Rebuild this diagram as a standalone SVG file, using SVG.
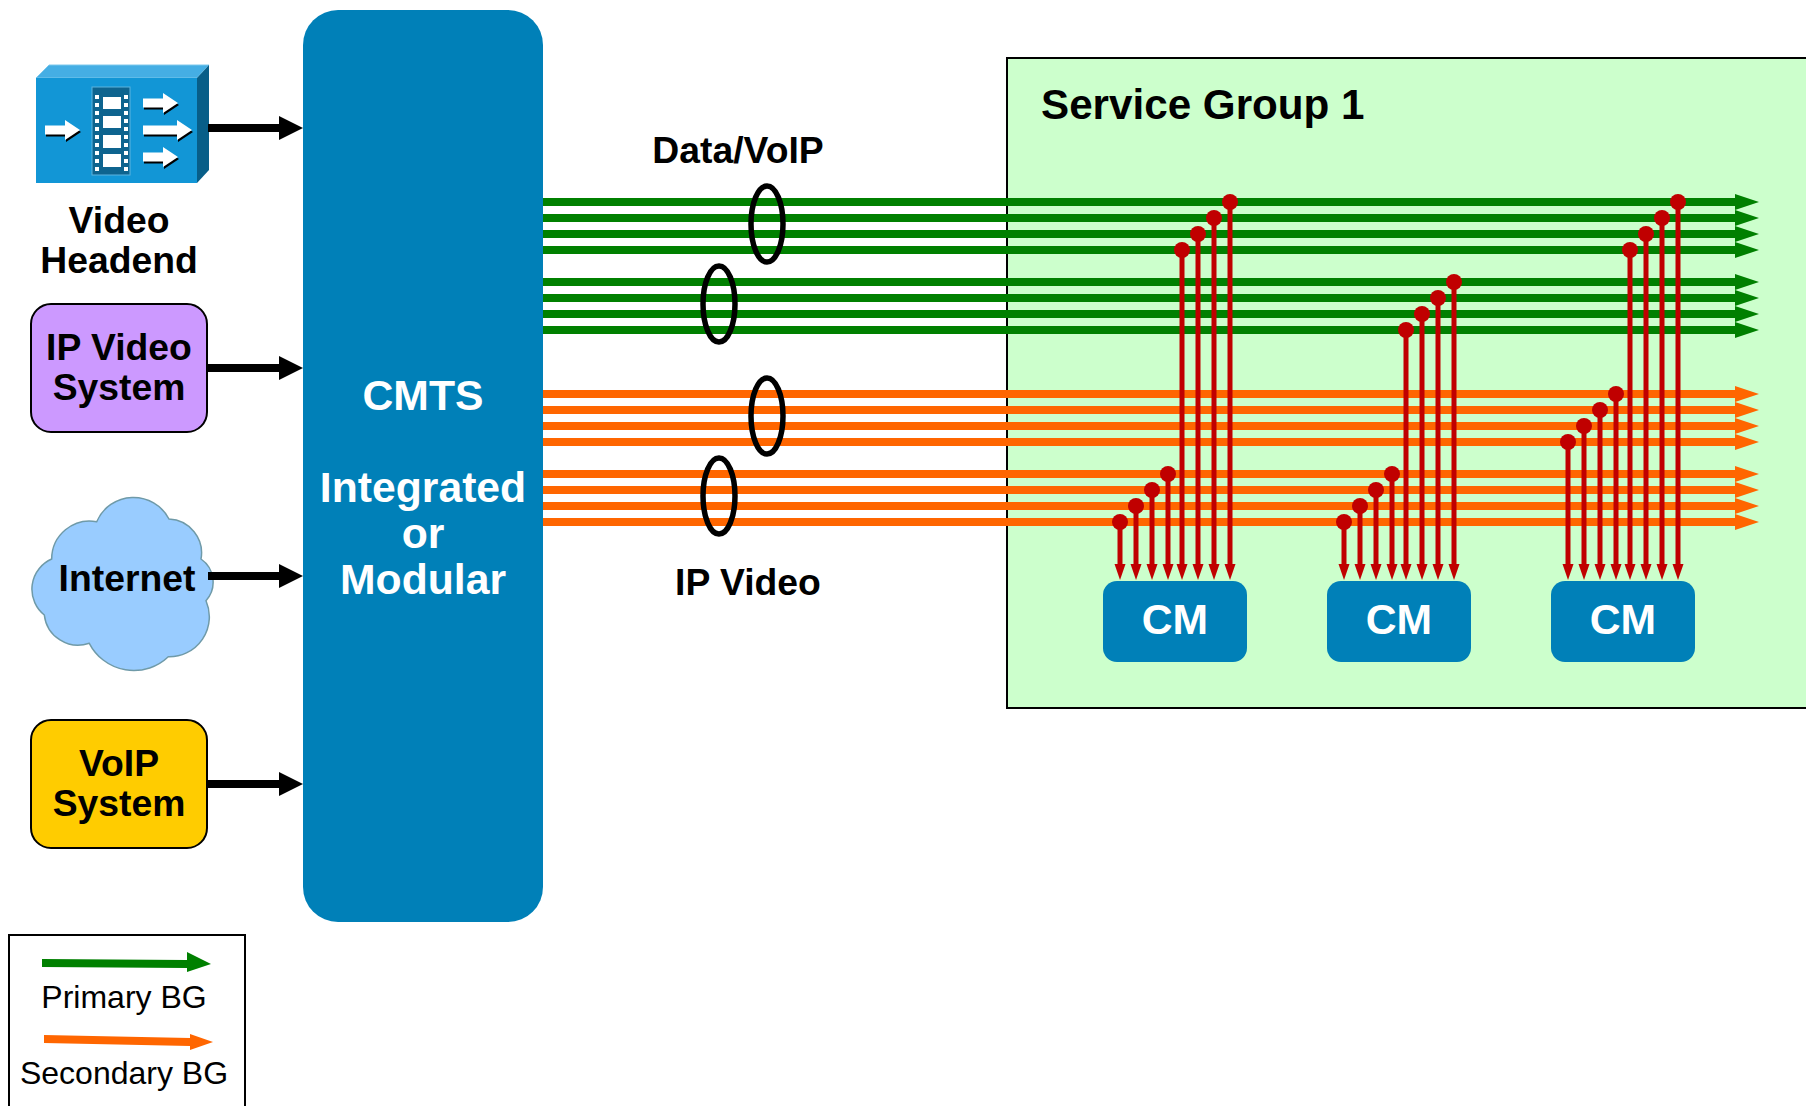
<svg xmlns="http://www.w3.org/2000/svg" width="1806" height="1106" viewBox="0 0 1806 1106">
<defs>
<style>
text{font-family:"Liberation Sans",Arial,sans-serif;font-weight:bold;text-anchor:middle;fill:#000}
.t36{font-size:37.3px}.t42{font-size:42.7px}.w{fill:#fff}.sg{font-size:42.2px}
.leg{font-size:32px;font-weight:normal}
.g{stroke:#008000;stroke-width:8;fill:none;marker-end:url(#mg)}
.o{stroke:#FF6600;stroke-width:8;fill:none;marker-end:url(#mo)}
.k{stroke:#000;stroke-width:8;fill:none;marker-end:url(#mk)}
.r{stroke:#C00000;stroke-width:5;fill:none;marker-end:url(#mr)}
.d{fill:#C00000}
.e{fill:none;stroke:#000;stroke-width:5.5}
.cm{fill:#0080B8}
.sp{fill:#fff}
</style>
<marker id="mg" markerUnits="userSpaceOnUse" markerWidth="25" markerHeight="18" refX="0" refY="8" orient="auto"><path d="M0 0L24 8L0 16z" fill="#008000"/></marker>
<marker id="mo" markerUnits="userSpaceOnUse" markerWidth="25" markerHeight="18" refX="0" refY="8" orient="auto"><path d="M0 0L24 8L0 16z" fill="#FF6600"/></marker>
<marker id="mk" markerUnits="userSpaceOnUse" markerWidth="26" markerHeight="26" refX="0" refY="12" orient="auto"><path d="M0 0L24 12L0 24z" fill="#000"/></marker>
<marker id="mr" markerUnits="userSpaceOnUse" markerWidth="18" markerHeight="12" refX="0" refY="5.5" orient="auto"><path d="M0 0L16 5.5L0 11z" fill="#C00000"/></marker>
<path id="wa" d="M0 -4.500H20V-10L35 0L20 10V4.500H0z"/>
</defs>

<g id="service-group"><rect x="1007" y="58" width="810" height="650" fill="#CCFFCC" stroke="#000" stroke-width="2"/>
<text class="sg" x="1041" y="119" style="text-anchor:start">Service Group 1</text></g>

<g id="cmts"><rect x="303" y="10" width="240" height="912" rx="35" fill="#0080B8"/>
<text class="t42 w" x="423" y="410">CMTS</text>
<text class="t42 w" x="423" y="502">Integrated</text>
<text class="t42 w" x="423" y="548">or</text>
<text class="t42 w" x="423" y="594">Modular</text></g>

<g id="video-headend">
<path d="M36 78L49 65H209L197 78z" fill="#45AEE4" stroke="#7CC8EC" stroke-width="1"/>
<path d="M197 78L209 65V170L197 183z" fill="#085E88"/>
<rect x="36" y="78" width="161" height="105" fill="#1296D6"/>
<rect x="92" y="87" width="38" height="88" fill="#0E648F" stroke="#5CB3DE" stroke-width="1"/>
<g class="sp"><rect x="103" y="97" width="18" height="12"/><rect x="103" y="116" width="18" height="12"/><rect x="103" y="135" width="18" height="13"/><rect x="103" y="154" width="18" height="13"/>
<path d="M95 95h4v4h-4zM95 103h4v4h-4zM95 111h4v4h-4zM95 119h4v4h-4zM95 127h4v4h-4zM95 135h4v4h-4zM95 143h4v4h-4zM95 151h4v4h-4zM95 159h4v4h-4zM95 167h4v4h-4zM124 95h4v4h-4zM124 103h4v4h-4zM124 111h4v4h-4zM124 119h4v4h-4zM124 127h4v4h-4zM124 135h4v4h-4zM124 143h4v4h-4zM124 151h4v4h-4zM124 159h4v4h-4zM124 167h4v4h-4z"/></g>
<use href="#wa" transform="translate(46 132)" fill="#000"/><use href="#wa" transform="translate(45 130)" fill="#fff"/>
<use href="#wa" transform="translate(144 105)" fill="#000"/><use href="#wa" transform="translate(143 103)" fill="#fff"/>
<path d="M143 125.500H177V120L192 130L177 140V134.500H143z" fill="#000" transform="translate(1 2)"/><path d="M143 125.500H177V120L192 130L177 140V134.500H143z" fill="#fff"/>
<use href="#wa" transform="translate(144 159)" fill="#000"/><use href="#wa" transform="translate(143 157)" fill="#fff"/>
<text class="t36" x="119" y="233">Video</text><text class="t36" x="119" y="273">Headend</text></g>

<g id="ip-video-system"><rect x="31" y="304" width="176" height="128" rx="20" fill="#CC99FF" stroke="#000" stroke-width="2"/>
<text class="t36" x="119" y="360">IP Video</text><text class="t36" x="119" y="400">System</text></g>

<g id="internet"><path d="M96.700 521.700A40 40 0 0 1 169 519A34 34 0 0 1 201 559A28 28 0 0 1 206 600.700A40 40 0 0 1 168.300 656.700A50 50 0 0 1 89.300 643.300A34 34 0 0 1 44.300 615A33 33 0 0 1 51.700 559A38 38 0 0 1 96.700 521.700z" fill="#99CCFF" stroke="#6F9AA8" stroke-width="1.500"/>
<text class="t36" x="127" y="591">Internet</text></g>

<g id="voip-system"><rect x="31" y="720" width="176" height="128" rx="20" fill="#FFCC00" stroke="#000" stroke-width="2"/>
<text class="t36" x="119" y="776">VoIP</text><text class="t36" x="119" y="816">System</text></g>

<g id="connectors">
<line class="k" x1="208" y1="128" x2="279" y2="128"/><line class="k" x1="207" y1="368" x2="279" y2="368"/><line class="k" x1="208" y1="576" x2="279" y2="576"/><line class="k" x1="207" y1="784" x2="279" y2="784"/>
<line class="g" x1="543" y1="202" x2="1735" y2="202"/><line class="g" x1="543" y1="218" x2="1735" y2="218"/><line class="g" x1="543" y1="234" x2="1735" y2="234"/><line class="g" x1="543" y1="250" x2="1735" y2="250"/>
<line class="g" x1="543" y1="282" x2="1735" y2="282"/><line class="g" x1="543" y1="298" x2="1735" y2="298"/><line class="g" x1="543" y1="314" x2="1735" y2="314"/><line class="g" x1="543" y1="330" x2="1735" y2="330"/>
<line class="o" x1="543" y1="394" x2="1735" y2="394"/><line class="o" x1="543" y1="410" x2="1735" y2="410"/><line class="o" x1="543" y1="426" x2="1735" y2="426"/><line class="o" x1="543" y1="442" x2="1735" y2="442"/>
<line class="o" x1="543" y1="474" x2="1735" y2="474"/><line class="o" x1="543" y1="490" x2="1735" y2="490"/><line class="o" x1="543" y1="506" x2="1735" y2="506"/><line class="o" x1="543" y1="522" x2="1735" y2="522"/>
<path class="r" d="M1120 522V564"/><path class="r" d="M1136 506V564"/><path class="r" d="M1152 490V564"/><path class="r" d="M1168 474V564"/>
<path class="r" d="M1182 250V564"/><path class="r" d="M1198 234V564"/><path class="r" d="M1214 218V564"/><path class="r" d="M1230 202V564"/>
<path class="r" d="M1344 522V564"/><path class="r" d="M1360 506V564"/><path class="r" d="M1376 490V564"/><path class="r" d="M1392 474V564"/>
<path class="r" d="M1406 330V564"/><path class="r" d="M1422 314V564"/><path class="r" d="M1438 298V564"/><path class="r" d="M1454 282V564"/>
<path class="r" d="M1568 442V564"/><path class="r" d="M1584 426V564"/><path class="r" d="M1600 410V564"/><path class="r" d="M1616 394V564"/>
<path class="r" d="M1630 250V564"/><path class="r" d="M1646 234V564"/><path class="r" d="M1662 218V564"/><path class="r" d="M1678 202V564"/>
<g class="d"><circle cx="1120" cy="522" r="8"/><circle cx="1136" cy="506" r="8"/><circle cx="1152" cy="490" r="8"/><circle cx="1168" cy="474" r="8"/>
<circle cx="1182" cy="250" r="8"/><circle cx="1198" cy="234" r="8"/><circle cx="1214" cy="218" r="8"/><circle cx="1230" cy="202" r="8"/>
<circle cx="1344" cy="522" r="8"/><circle cx="1360" cy="506" r="8"/><circle cx="1376" cy="490" r="8"/><circle cx="1392" cy="474" r="8"/>
<circle cx="1406" cy="330" r="8"/><circle cx="1422" cy="314" r="8"/><circle cx="1438" cy="298" r="8"/><circle cx="1454" cy="282" r="8"/>
<circle cx="1568" cy="442" r="8"/><circle cx="1584" cy="426" r="8"/><circle cx="1600" cy="410" r="8"/><circle cx="1616" cy="394" r="8"/>
<circle cx="1630" cy="250" r="8"/><circle cx="1646" cy="234" r="8"/><circle cx="1662" cy="218" r="8"/><circle cx="1678" cy="202" r="8"/></g>
<ellipse class="e" cx="767" cy="224" rx="16" ry="38"/><ellipse class="e" cx="719" cy="304" rx="16" ry="38"/><ellipse class="e" cx="767" cy="416" rx="16" ry="38"/><ellipse class="e" cx="719" cy="496" rx="16" ry="38"/>
</g>

<g id="cm-1"><rect class="cm" x="1103" y="581" width="144" height="81" rx="14"/><text class="t42 w" x="1175" y="634">CM</text></g>
<g id="cm-2"><rect class="cm" x="1327" y="581" width="144" height="81" rx="14"/><text class="t42 w" x="1399" y="634">CM</text></g>
<g id="cm-3"><rect class="cm" x="1551" y="581" width="144" height="81" rx="14"/><text class="t42 w" x="1623" y="634">CM</text></g>

<g id="labels"><text class="t36" x="738" y="163">Data/VoIP</text><text class="t36" x="748" y="595">IP Video</text></g>

<g id="legend"><rect x="9" y="935" width="236" height="190" fill="#fff" stroke="#000" stroke-width="2"/>
<path d="M42 959L187 960V952L211 964L187 972V968L42 967z" fill="#008000"/>
<text class="leg" x="124" y="1008">Primary BG</text>
<path d="M44 1035L190 1038V1034L213 1042L190 1050V1046L44 1043z" fill="#FF6600"/>
<text class="leg" x="124" y="1084">Secondary BG</text></g>
</svg>
